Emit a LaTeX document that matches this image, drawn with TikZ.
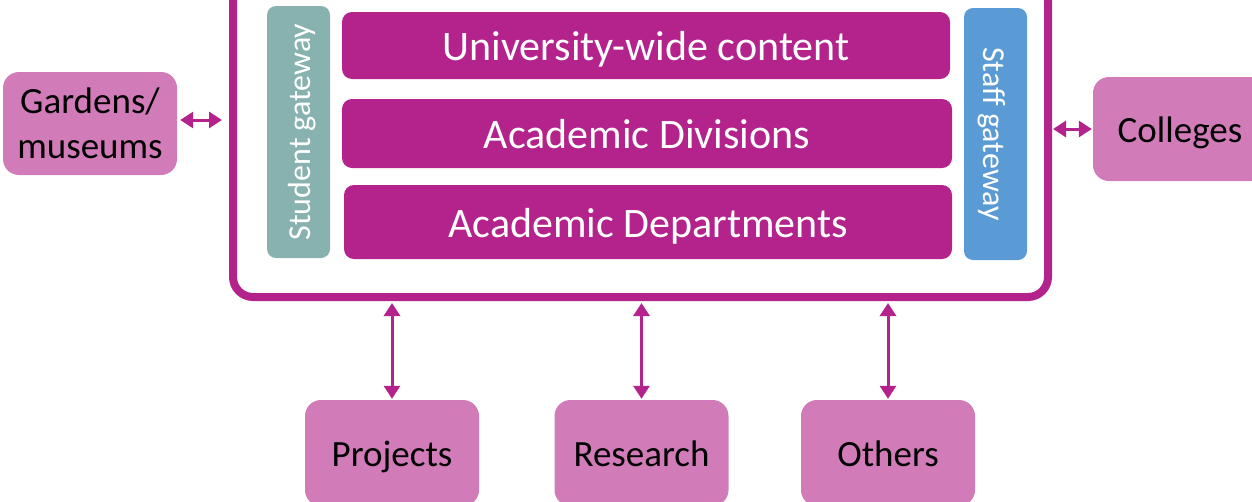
\documentclass[tikz,border=0pt]{standalone}
\usepackage{fontspec}
\setmainfont{Carlito}
\usetikzlibrary{arrows.meta}
\definecolor{portalpurple}{RGB}{179,35,139}
\definecolor{sitepink}{RGB}{209,124,184}
\definecolor{studentteal}{RGB}{136,178,176}
\definecolor{staffblue}{RGB}{91,155,213}
\tikzset{
  layer/.style={fill=portalpurple, rounded corners=10pt, text=white, text height=30.5pt, text depth=0pt, font=\fontsize{42}{46}\selectfont},
  gateway/.style={rounded corners=9pt, text=white, text height=23.4pt, text depth=0pt, minimum width=252pt, minimum height=63pt, font=\fontsize{32}{36}\selectfont},
  site/.style={fill=sitepink, rounded corners=16pt, text=black, minimum width=174pt, minimum height=104pt, align=center, font=\fontsize{37}{45}\selectfont},
  oneline/.style={text height=27pt, text depth=0pt},
  link/.style={portalpurple, line width=3pt, {Triangle[width=16pt,length=13pt]}-{Triangle[width=16pt,length=13pt]}}
}

\begin{document}
\begin{tikzpicture}[x=1pt,y=-1pt]
\useasboundingbox (0,0) rectangle (1252,501);
\clip (0,0) rectangle (1252,501);
\node[draw=portalpurple, line width=8pt, rounded corners=20pt, minimum width=815pt, minimum height=317pt] (portal) at (640.5,138.5) {};
\node[layer, minimum width=608pt, minimum height=67pt] (univ) at (646,45.5) {University-wide content};
\node[layer, minimum width=610pt, minimum height=69pt] (divs) at (647,133.5) {Academic Divisions};
\node[layer, minimum width=608pt, minimum height=74pt] (depts) at (648,222) {Academic Departments};
\node[gateway, fill=studentteal, rotate=90] (student) at (298.5,132) {Student gateway};
\node[gateway, fill=staffblue, rotate=-90] (staff) at (995.5,134) {Staff gateway};
\node[site, minimum height=103pt] (gardens) at (90,123.5) {Gardens/\\museums};
\node[site, oneline] (colleges) at (1180,129) {Colleges};
\node[site, oneline, minimum height=106pt] (projects) at (392,453) {Projects};
\node[site, oneline, minimum height=106pt] (research) at (641.5,453) {Research};
\node[site, oneline, minimum height=106pt] (others) at (888,453) {Others};
\draw[link, shorten <=3pt, shorten >=7pt] ([yshift=3.5pt]gardens.east) -- ([yshift=3.5pt]gardens.east -| portal.west);
\draw[link, shorten <=1pt, shorten >=1pt] (colleges.west -| portal.east) -- (colleges.west);
\draw[link, shorten <=2pt, shorten >=1pt] (projects.north |- portal.south) -- (projects.north);
\draw[link, shorten <=2pt, shorten >=1pt] (research.north |- portal.south) -- (research.north);
\draw[link, shorten <=2pt, shorten >=1pt] (others.north |- portal.south) -- (others.north);
\end{tikzpicture}
\end{document}
